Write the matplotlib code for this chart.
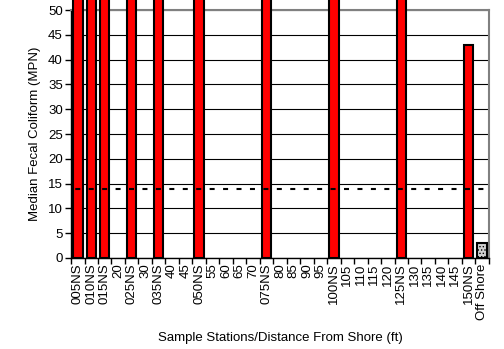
import matplotlib.pyplot as plt
import numpy as np

plt.rcParams['font.family'] = ['Liberation Sans', 'DejaVu Sans']
plt.rcParams['hatch.color'] = '#a0a0a0'
plt.rcParams['hatch.linewidth'] = 0.6

# stations along the x axis
stations = ['005NS', '010NS', '015NS', '20', '025NS', '30', '035NS', '40', '45',
            '050NS', '55', '60', '65', '70', '075NS', '80', '85', '90', '95',
            '100NS', '105', '110', '115', '120', '125NS', '130', '135', '140',
            '145', '150NS', 'Off Shore']
# median fecal coliform per station (0 = no sample); off-scale bars exceed 50
median_fc = [240, 170, 130, 0, 93, 0, 110, 0, 0,
             80, 0, 0, 0, 0, 70, 0, 0, 0, 0,
             90, 0, 0, 0, 0, 60, 0, 0, 0,
             0, 43, 3]
standard = 14

fig = plt.figure(figsize=(5.04, 3.49), dpi=100)
ax = fig.add_axes([0.141, 0.261, 0.829, 0.71])

x = np.arange(len(stations))
colors = ['red'] * (len(stations) - 1) + ['#d0d0d0']
hatches = [''] * (len(stations) - 1) + ['.....']
for xi, v, c, h in zip(x, median_fc, colors, hatches):
    if v > 0:
        ax.bar(xi, v, width=0.7, color=c, edgecolor='black', linewidth=1.5,
               hatch=h, clip_on=False, zorder=3)

# dashes sit one per category, centred on the stations
ax.axhline(standard, color='black', linestyle=(4.4, (2.4, 4.05)), linewidth=1.5, zorder=4)

ax.set_xlim(-0.5, len(stations) - 0.5)
ax.set_ylim(0, 50)
ax.set_yticks(np.arange(0, 51, 5))
ax.yaxis.grid(True, color='black', linewidth=0.8)
ax.set_axisbelow(True)

ax.set_xticks(x)
ax.set_xticklabels(stations, rotation=90, fontsize=9.5)
ax.tick_params(axis='x', length=0, pad=4)
ax.set_xticks(np.arange(-0.5, len(stations)), minor=True)
ax.tick_params(axis='x', which='minor', length=4, width=1, direction='out')
ax.tick_params(axis='y', labelsize=9.5, length=4, width=1, direction='out', pad=2)

for s in ['top', 'right']:
    ax.spines[s].set_color('#808080')
    ax.spines[s].set_linewidth(1.5)
for s in ['left', 'bottom']:
    ax.spines[s].set_color('black')
    ax.spines[s].set_linewidth(1)

ax.set_ylabel('Median Fecal Coliform (MPN)', fontsize=9.5, labelpad=5)
fig.text(0.556, 0.031, 'Sample Stations/Distance From Shore (ft)', fontsize=9.5,
         ha='center', va='center')

fig.savefig('out.png', dpi=100)
